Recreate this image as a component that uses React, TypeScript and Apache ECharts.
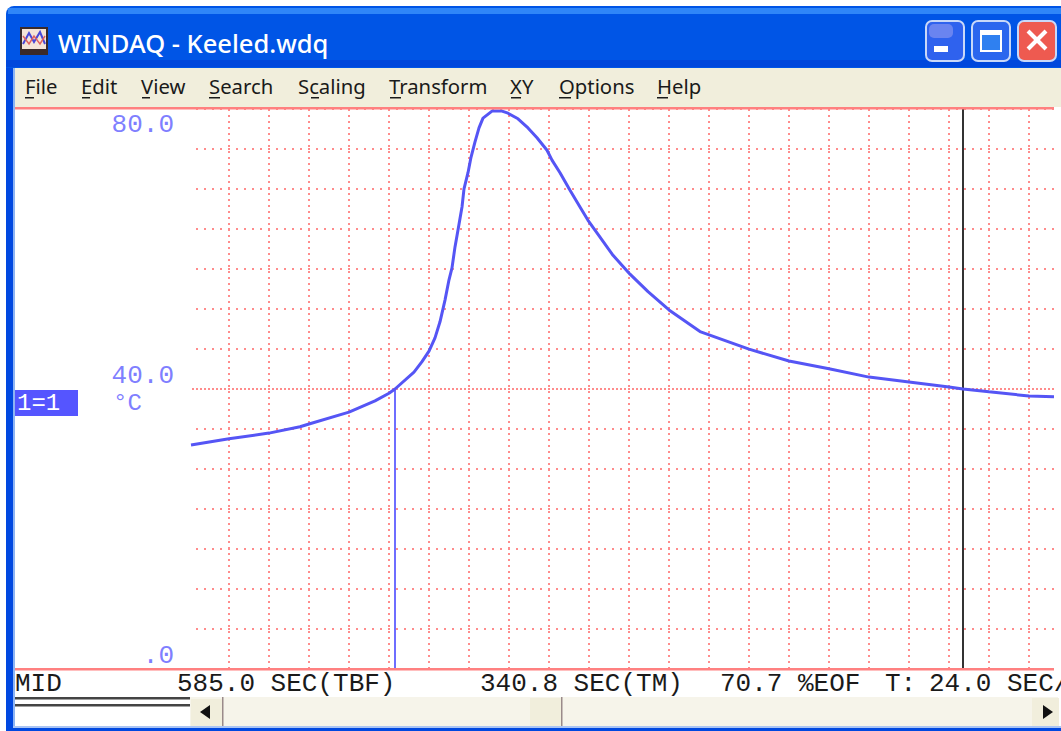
import React, { useEffect, useRef } from "react";
import * as echarts from "echarts";

const timeSec = [1.2,24,48,66.6,72,96,111.6,120,123.6,135,139.8,144,147.6,150.6,153.6,156,157.8,159.6,161.4,163.8,165,167.4,169.2,171.6,174,176.4,181.8,187.8,191.4,197.4,203.4,208.8,214.8,217.8,222.6,228.6,234.6,239.4,246.6,254.4,264.6,275.4,288,306.6,336,360,384,408,432,456,464.4,480,504,519];
const tempC = [32,32.9,33.7,34.6,35,36.7,38.3,39.4,40,42.4,43.9,45.4,47.3,49.6,52.7,55.6,57.3,60.3,62.7,66,68.6,70.9,73.1,75.3,77.3,78.7,79.7,79.7,79.4,78.6,77.3,75.9,74.1,72.7,70.9,68.4,66,64.1,61.7,59.1,56.4,53.9,51.3,48.2,45.7,44,42.9,41.7,41,40.3,40,39.6,39,38.9];
const yLabels: Record<string, string> = { "0": ".0", "40": "40.0", "80": "80.0" };
const markerTime = [123.6, 123.6];
const markerTemp = [0, 40];
const cursorTime = [464.4, 464.4];
const cursorTemp = [0, 80];
const centerTime = [1.8, 519];
const centerTemp = [40, 40];
const menuItems = ["File", "Edit", "View", "Search", "Scaling", "Transform", "XY", "Options", "Help"];
const menuX = [25, 81, 141, 209, 298, 389, 510, 559, 657];
const menuUnderline = [[25, 34], [82, 90], [142, 150], [209, 220], [311, 319], [390, 401], [511, 521], [559, 571], [657, 668]];
const statusTexts = ["MID", "585.0 SEC(TBF)", "340.8 SEC(TM)", "70.7 %EOF", "T:", "24.0 SEC/"];
const statusX = [15, 177, 480, 720, 885, 929];

const MONO = "'Liberation Mono', monospace";
const UI = "'Noto Sans', 'Open Sans', sans-serif";
const GRID_RED = "#FF8C8C";
const LINE_RED = "#FF8080";
const TRACE = "#5555F5";
const SOFT_BLUE = "#7F7FFF";

const rect = (x: number, y: number, w: number, h: number, fill: string, z = 10, r: any = 0, extra: any = {}) => ({
  type: "rect", silent: true, z, shape: { x, y, width: w, height: h, r }, style: { fill, ...extra },
});
const text = (x: number, y: number, t: string, font: string, fill: string, z = 11) => ({
  type: "text", silent: true, z, x, y, style: { text: t, font, fill, textVerticalAlign: "middle" },
});
const button = (x: number, w: number, fill: string) =>
  rect(x + 1, 21, w - 2, 40, fill, 11, 6, { stroke: "#C8D8F8", lineWidth: 2 });

const chrome: any[] = [
  // window frame
  rect(6, 6, 1055, 62, "#0055E6", 10, [8, 0, 0, 0]),
  rect(8, 8, 1053, 6, "#2F86F8", 11),
  rect(6, 60, 1055, 7, "#0047DC", 11),
  rect(6, 68, 7, 663, "#0048E0", 10),
  rect(13, 68, 2, 663, "#8DB4F4", 10),
  rect(6, 728, 1055, 3, "#0048E0", 12),
  rect(13, 726, 1048, 2, "#A9C4F4", 12),
  // title icon
  rect(21, 28, 26, 22, "#F4E4D8", 12, 0, { stroke: "#3A2A2A", lineWidth: 2 }),
  rect(20, 50, 28, 5, "#3A2A2A", 12),
  { type: "polyline", silent: true, z: 13, shape: { points: [[23, 44], [29, 33], [34, 42], [40, 32], [45, 44]] }, style: { fill: "none", stroke: "#4848D8", lineWidth: 2 } },
  { type: "polyline", silent: true, z: 13, shape: { points: [[23, 36], [29, 44], [34, 36], [40, 44], [45, 36]] }, style: { fill: "none", stroke: "#E06060", lineWidth: 1.5 } },
  text(58, 43, "WINDAQ - Keeled.wdq", `500 25.5px ${UI}`, "#FFFFFF", 12),
  // title buttons
  button(925, 40, "#2F62EE"),
  rect(929, 24, 24, 14, "#6A84F0", 12, 5),
  rect(934, 46, 14, 6, "#FFFFFF", 13),
  button(971, 40, "#2A66EE"),
  rect(981, 31, 20, 20, "#2F80F0", 12, 0, { stroke: "#FFFFFF", lineWidth: 2 }),
  rect(981, 30, 20, 5, "#FFFFFF", 13),
  button(1017, 40, "#EE5A50"),
  { type: "line", silent: true, z: 13, shape: { x1: 1028, y1: 31, x2: 1046, y2: 49 }, style: { stroke: "#FFFFFF", lineWidth: 4 } },
  { type: "line", silent: true, z: 13, shape: { x1: 1046, y1: 31, x2: 1028, y2: 49 }, style: { stroke: "#FFFFFF", lineWidth: 4 } },
  // menu bar
  rect(15, 68, 1046, 39, "#F1EEDC", 10),
  ...menuItems.map((m, i) => text(menuX[i], 86, m, `20.3px ${UI}`, "#1A1A1A", 11)),
  ...menuUnderline.map(([a, b]) => rect(a, 97, b - a, 1.5, "#1A1A1A", 11)),
  // plot frame
  rect(15, 107, 1039, 2.5, LINE_RED, 8),
  rect(15, 668, 1039, 2.5, LINE_RED, 8),
  // channel label
  rect(15, 390, 63, 26, "#5555FF", 9),
  text(17, 403, "1=1", `24px ${MONO}`, "#FFFFFF", 10),
  text(113, 403, "°C", `24px ${MONO}`, SOFT_BLUE, 10),
  // status row
  ...statusTexts.map((t, i) => text(statusX[i], 684, t, `26px ${MONO}`, "#1A1A1A", 9)),
  rect(15, 697, 175, 2.5, "#444444", 9),
  rect(15, 704, 175, 2.5, "#444444", 9),
  // scroll bar
  rect(190, 697, 868, 30, "#F6F4EA", 9),
  rect(191, 699, 31, 28, "#F1EEDC", 10),
  rect(222, 697, 1.5, 30, "#9A8A8A", 10),
  { type: "polygon", silent: true, z: 11, shape: { points: [[210, 705], [210, 719], [200, 712]] }, style: { fill: "#111111" } },
  rect(530, 698, 31, 29, "#F1EEDC", 10),
  rect(561, 697, 1.5, 30, "#9A8A8A", 10),
  rect(1032, 698, 27, 29, "#F1EEDC", 10),
  { type: "polygon", silent: true, z: 11, shape: { points: [[1043, 705], [1043, 719], [1053, 712]] }, style: { fill: "#111111" } },
];

export default function App() {
  const ref = useRef<HTMLDivElement>(null);
  useEffect(() => {
    document.body.style.margin = "0";
    const chart = echarts.init(ref.current!, undefined, { renderer: "svg" });
    const pairs = (a: number[], b: number[]) => a.map((v, i) => [v, b[i]]);
    chart.setOption({
      animation: false,
      backgroundColor: "#FFFFFF",
      grid: [
        { left: 189, right: 7, top: 109, bottom: 62 },
        { left: 196, right: 7, top: 109, bottom: 62 },
      ],
      xAxis: [
        {
          type: "value", gridIndex: 0, min: 0, max: 519, interval: 24,
          axisLine: { show: false }, axisTick: { show: false }, axisLabel: { show: false },
          splitLine: { show: true, showMinLine: false, showMaxLine: false, lineStyle: { color: GRID_RED, width: 2, type: [2, 4] } },
        },
        {
          type: "value", gridIndex: 1, min: 0, max: 519,
          axisLine: { show: false }, axisTick: { show: false }, axisLabel: { show: false }, splitLine: { show: false },
        },
      ],
      yAxis: [
        {
          type: "value", gridIndex: 0, min: 0, max: 80, interval: 40,
          axisLine: { show: false }, axisTick: { show: false }, splitLine: { show: false },
          axisLabel: {
            margin: 15, fontFamily: MONO, fontSize: 26, color: SOFT_BLUE, padding: [3, 0, 0, 0],
            verticalAlign: "bottom", verticalAlignMaxLabel: "top",
            formatter: (v: number) => yLabels[String(v)] ?? "",
          },
        },
        {
          type: "value", gridIndex: 1, min: 0, max: 80, interval: 80 / 14,
          axisLine: { show: false }, axisTick: { show: false }, axisLabel: { show: false },
          splitLine: { show: true, showMinLine: false, showMaxLine: false, lineStyle: { color: GRID_RED, width: 2, type: [2, 6] } },
        },
      ],
      series: [
        {
          type: "line", xAxisIndex: 0, yAxisIndex: 0, data: pairs(centerTime, centerTemp), showSymbol: false, silent: true, z: 1,
          lineStyle: { color: GRID_RED, width: 2, type: [2, 2] },
        },
        {
          type: "line", xAxisIndex: 0, yAxisIndex: 0, data: pairs(cursorTime, cursorTemp), showSymbol: false, silent: true, z: 2,
          lineStyle: { color: "#333333", width: 2 },
        },
        {
          type: "line", xAxisIndex: 0, yAxisIndex: 0, data: pairs(markerTime, markerTemp), showSymbol: false, silent: true, z: 3,
          lineStyle: { color: "#6E6EFF", width: 2 },
        },
        {
          type: "line", xAxisIndex: 0, yAxisIndex: 0, data: pairs(timeSec, tempC), showSymbol: false, silent: true, z: 4, clip: false,
          lineStyle: { color: TRACE, width: 3 },
        },
      ],
      graphic: { elements: chrome },
    });
    return () => chart.dispose();
  }, []);
  return <div ref={ref} style={{ position: "absolute", left: 0, top: 0, width: 1061, height: 731 }} />;
}
